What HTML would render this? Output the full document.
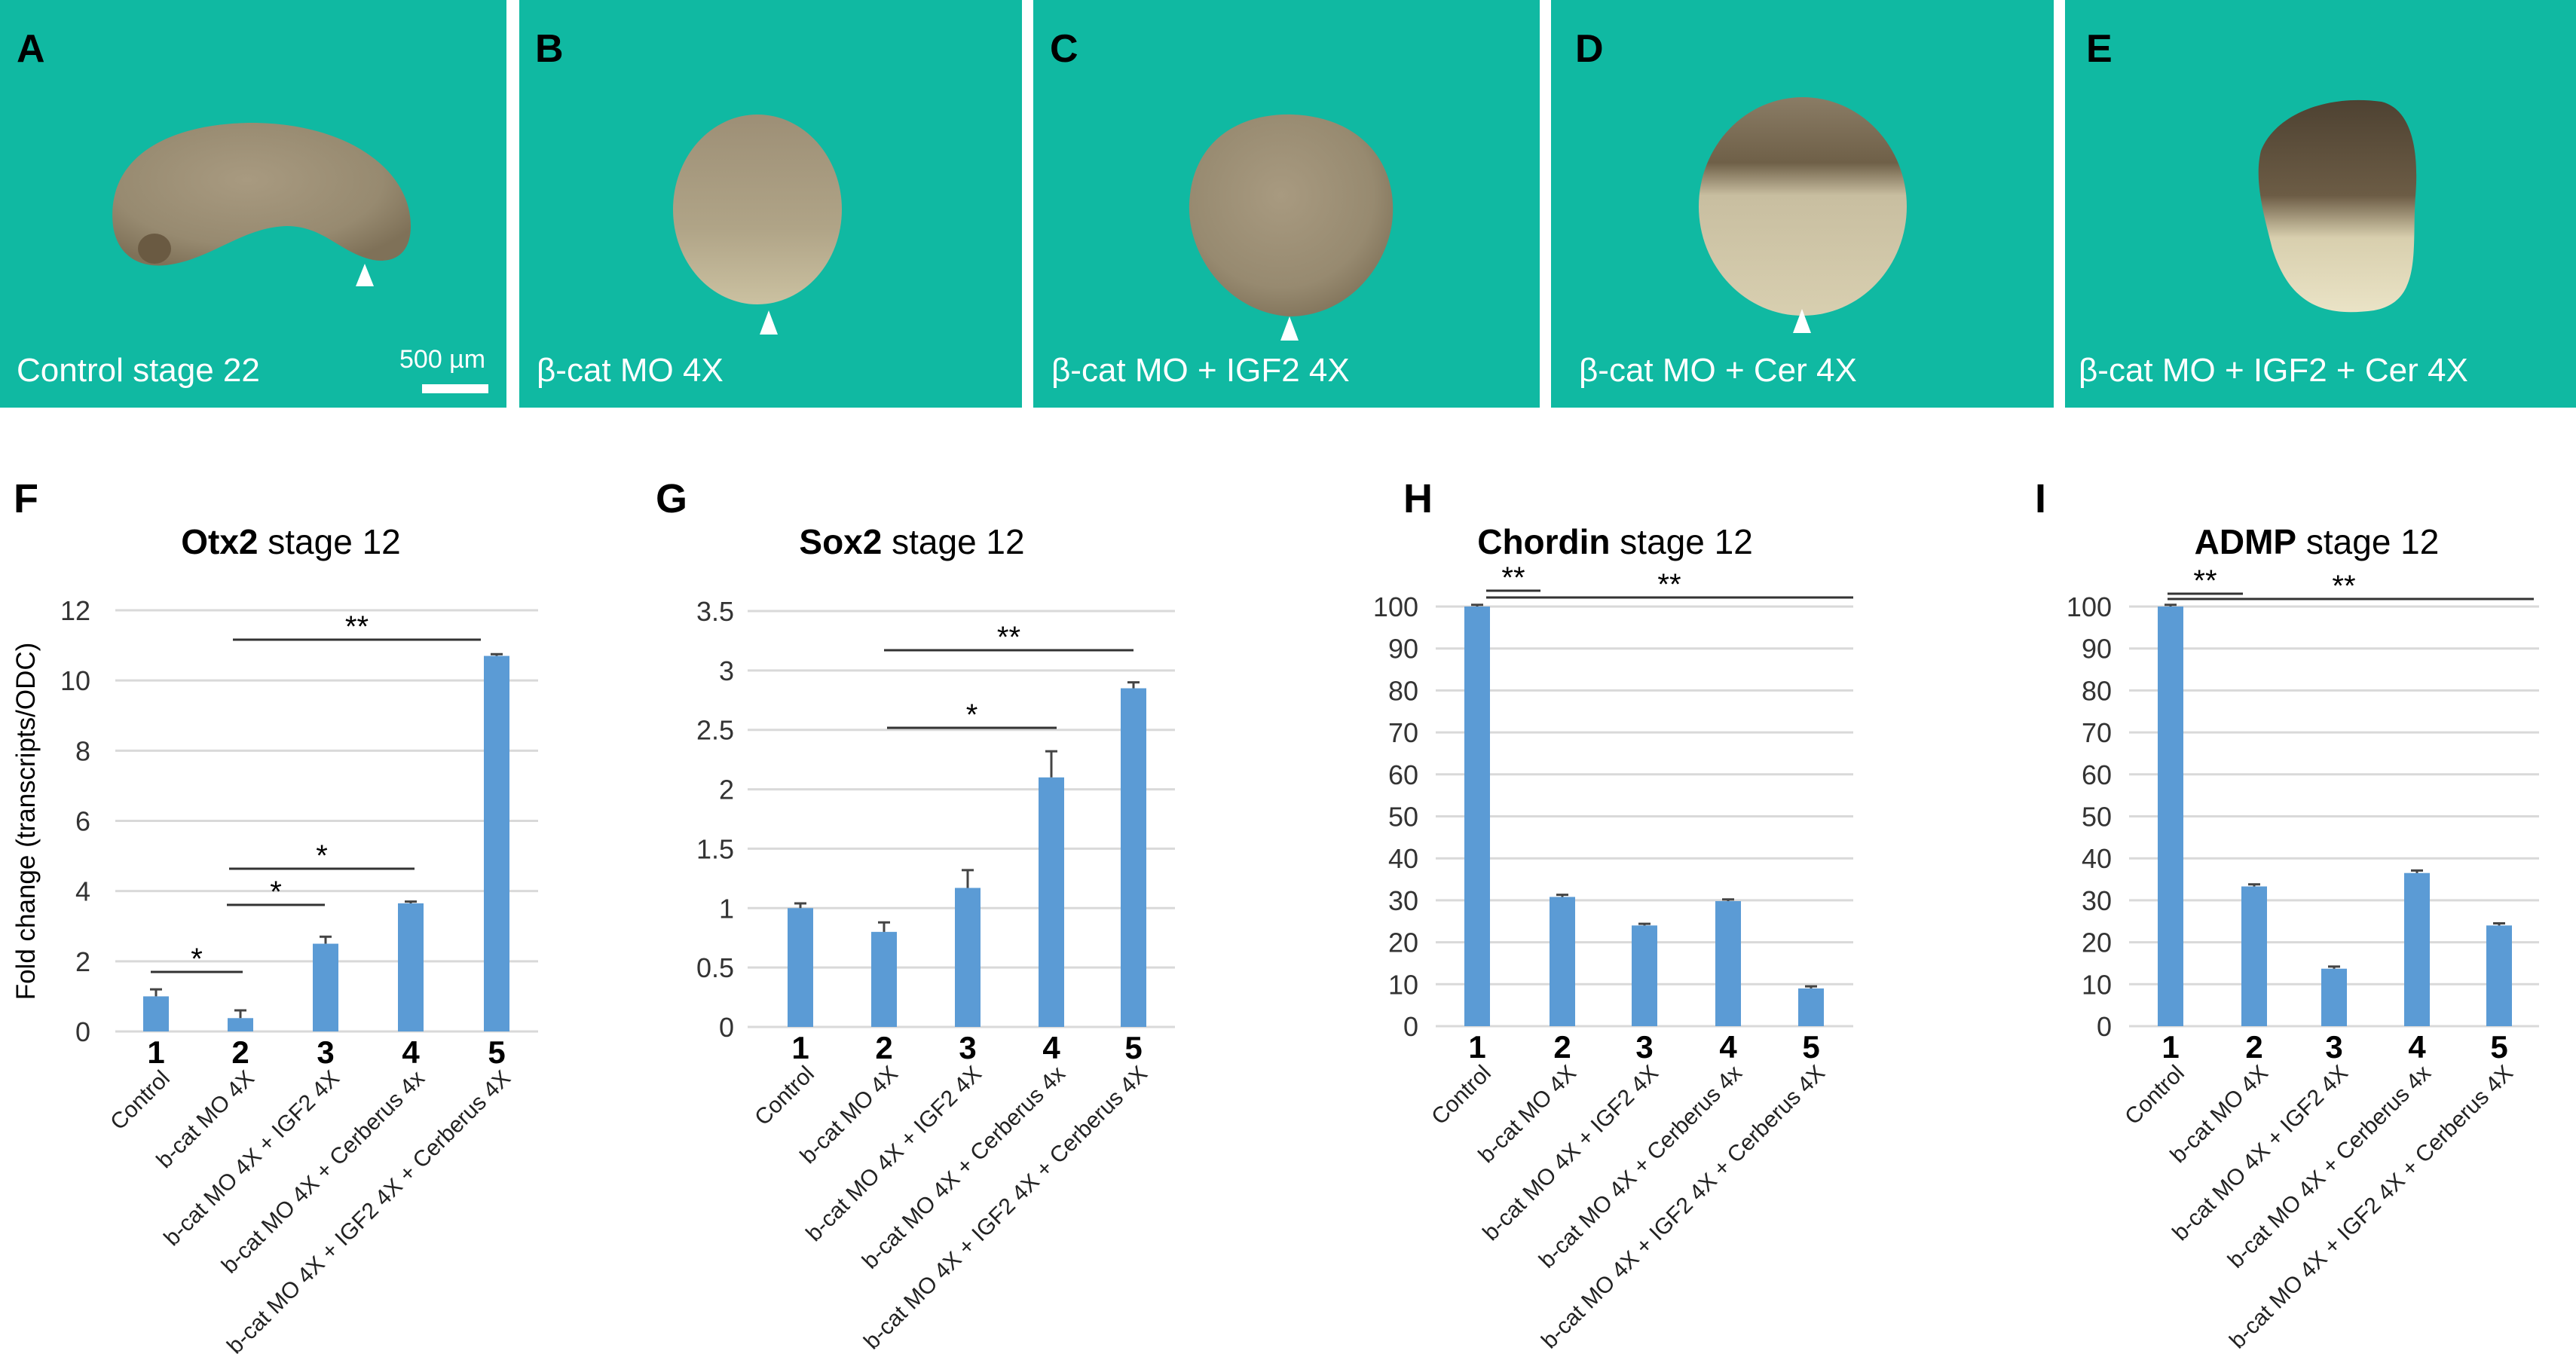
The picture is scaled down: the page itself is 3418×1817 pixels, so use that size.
<!DOCTYPE html>
<html><head><meta charset="utf-8">
<style>
html,body{margin:0;padding:0;background:#fff;}
svg{display:block;font-family:"Liberation Sans",sans-serif;}
</style></head>
<body>
<svg id="fig" width="3418" height="1817" viewBox="0 0 3418 1817" xmlns="http://www.w3.org/2000/svg">
<defs>
<radialGradient id="emb" cx="45%" cy="40%" r="65%">
<stop offset="0" stop-color="#a89a80"/><stop offset="0.7" stop-color="#978a70"/><stop offset="1" stop-color="#7f7158"/></radialGradient>
<linearGradient id="embB" x1="0" y1="0" x2="0" y2="1">
<stop offset="0" stop-color="#9d8f76"/><stop offset="0.6" stop-color="#b0a487"/><stop offset="1" stop-color="#cbc1a1"/></linearGradient>
<linearGradient id="embD" x1="0" y1="0" x2="0" y2="1">
<stop offset="0" stop-color="#8a7c65"/><stop offset="0.3" stop-color="#6f6048"/><stop offset="0.45" stop-color="#c8bea0"/><stop offset="1" stop-color="#d8cfb0"/></linearGradient>
<linearGradient id="embE" x1="0" y1="0" x2="0" y2="1">
<stop offset="0" stop-color="#4e4232"/><stop offset="0.45" stop-color="#6c5c45"/><stop offset="0.65" stop-color="#d8cfae"/><stop offset="1" stop-color="#eae3c6"/></linearGradient>
</defs>
<g id="photos">
<g>
<rect x="0" y="0" width="672" height="541" fill="#10b9a2"/>
<path d="M150,300 C140,210 220,165 330,163 C460,162 545,225 545,300 C545,335 525,350 495,345 C450,335 430,300 380,300 C320,302 280,345 220,352 C180,356 155,335 150,300Z" fill="url(#emb)"/>
<ellipse cx="205" cy="330" rx="22" ry="20" fill="#6a5a42"/>
<polygon points="484,350 472,380 496,380" fill="#fff"/>
<text x="22" y="82" font-size="52" font-weight="bold" fill="#000">A</text>
<text x="22" y="506" font-size="44" fill="#fff">Control stage 22</text>
<text x="530" y="488" font-size="34" fill="#fff">500 µm</text>
<rect x="560" y="510" width="88" height="12" fill="#fff"/>
</g>
<g>
<rect x="689" y="0" width="667" height="541" fill="#10b9a2"/>
<ellipse cx="1005" cy="278" rx="112" ry="126" fill="url(#embB)"/>
<polygon points="1020,412 1008,444 1032,444" fill="#fff"/>
<text x="710" y="82" font-size="52" font-weight="bold">B</text>
<text x="712" y="506" font-size="44" fill="#fff">β-cat MO 4X</text>
</g>
<g>
<rect x="1371" y="0" width="672" height="541" fill="#10b9a2"/>
<path d="M1711,420 C1630,415 1575,340 1578,270 C1582,190 1640,150 1715,152 C1800,155 1852,210 1848,285 C1845,350 1790,420 1711,420Z" fill="url(#emb)"/>
<polygon points="1711,420 1699,452 1723,452" fill="#fff"/>
<text x="1393" y="82" font-size="52" font-weight="bold">C</text>
<text x="1395" y="506" font-size="44" fill="#fff">β-cat MO + IGF2 4X</text>
</g>
<g>
<rect x="2058" y="0" width="667" height="541" fill="#10b9a2"/>
<ellipse cx="2392" cy="274" rx="138" ry="145" fill="url(#embD)"/>
<polygon points="2391,410 2379,442 2403,442" fill="#fff"/>
<text x="2090" y="82" font-size="52" font-weight="bold">D</text>
<text x="2095" y="506" font-size="44" fill="#fff">β-cat MO + Cer 4X</text>
</g>
<g>
<rect x="2740" y="0" width="678" height="541" fill="#10b9a2"/>
<path d="M3000,200 C3020,150 3090,125 3160,135 C3200,145 3210,200 3205,260 C3200,330 3215,400 3150,412 C3090,420 3040,410 3015,330 C3005,290 2990,240 3000,200Z" fill="url(#embE)"/>
<text x="2768" y="82" font-size="52" font-weight="bold">E</text>
<text x="2758" y="506" font-size="44" fill="#fff">β-cat MO + IGF2 + Cer 4X</text>
</g>
</g>
<g id="charts"></g>
</svg>
<script>
const categories = ["Control","b-cat MO 4X","b-cat MO 4X + IGF2 4X","b-cat MO 4X + Cerberus 4x","b-cat MO 4X + IGF2 4X + Cerberus 4X"];
const otx2Values = [1.0, 0.38, 2.5, 3.65, 10.7];
const otx2Errors = [0.2, 0.22, 0.2, 0.05, 0.05];
const otx2Ticks = [0,2,4,6,8,10,12];
const sox2Values = [1.0, 0.8, 1.17, 2.1, 2.85];
const sox2Errors = [0.04, 0.08, 0.15, 0.22, 0.05];
const sox2Ticks = [0,0.5,1,1.5,2,2.5,3,3.5];
const chordinValues = [100, 30.8, 24, 29.8, 9];
const chordinErrors = [0.4, 0.5, 0.4, 0.4, 0.5];
const admpValues = [100, 33.3, 13.7, 36.5, 24];
const admpErrors = [0.4, 0.5, 0.5, 0.6, 0.5];
const pctTicks = [0,10,20,30,40,50,60,70,80,90,100];

const NS="http://www.w3.org/2000/svg";
const root=document.getElementById('charts');
function mk(tag,attrs,parent,text){const e=document.createElementNS(NS,tag);for(const k in attrs)e.setAttribute(k,attrs[k]);if(text!==undefined)e.textContent=text;parent.appendChild(e);return e;}

const charts=[
 {id:'f',letter:'F',lx:18,bold:'Otx2',tcx:386,values:otx2Values,errs:otx2Errors,ticks:otx2Ticks,x0:153,x1:714,y0:1369,yTop:810,bars:[207,319,432,545,659],tickX:120,ylab:true,
  sigs:[[200,322,1290,'*'],[301,431,1201,'*'],[304,550,1153,'*'],[309,638,849,'**']]},
 {id:'g',letter:'G',lx:870,bold:'Sox2',tcx:1210,values:sox2Values,errs:sox2Errors,ticks:sox2Ticks,x0:992,x1:1559,y0:1363,yTop:811,bars:[1062,1173,1284,1395,1504],tickX:974,
  sigs:[[1177,1402,966,'*'],[1173,1504,863,'**']]},
 {id:'h',letter:'H',lx:1862,bold:'Chordin',tcx:2143,values:chordinValues,errs:chordinErrors,ticks:pctTicks,x0:1905,x1:2459,y0:1362,yTop:805,bars:[1960,2073,2182,2293,2403],tickX:1882,
  sigs:[[1972,2044,784,'**'],[1972,2459,793,'**',2215]]},
 {id:'i',letter:'I',lx:2700,bold:'ADMP',tcx:3074,values:admpValues,errs:admpErrors,ticks:pctTicks,x0:2825,x1:3369,y0:1362,yTop:805,bars:[2880,2991,3097,3207,3316],tickX:2802,
  sigs:[[2876,2976,788,'**'],[2876,3362,795,'**',3110]]}
];

charts.forEach(c=>{
 const g=mk('g',{},root);
 
 
 const tmax=c.ticks[c.ticks.length-1];
 const yS=v=>c.y0-(v/tmax)*(c.y0-c.yTop);
 const L=mk('text',{x:c.lx,y:680,'font-size':54,'font-weight':'bold'},g,c.letter);
 
 
 const T=mk('text',{x:c.tcx,y:735,'font-size':46,'text-anchor':'middle'},g);
 
 
 mk('tspan',{'font-weight':'bold'},T,c.bold);
 mk('tspan',{},T,' stage 12');
 c.ticks.forEach(t=>{
  const y=yS(t);
  const gl=mk('line',{x1:c.x0,x2:c.x1,y1:y,y2:y,stroke:'#d9d9d9','stroke-width':3},g);
  
  
  const tl=mk('text',{x:c.tickX,y:y+13,'font-size':36,'text-anchor':'end',fill:'#333'},g,String(t));
  
  
 });
 c.values.forEach((v,i)=>{
  const cx=c.bars[i], w=34, y=yS(v);
  const b=mk('rect',{x:cx-w/2,y:y,width:w,height:c.y0-y,fill:'#5b9bd5'},g);
  
  
  const ye=yS(v+c.errs[i]);
  const e=mk('path',{d:`M${cx},${y}V${ye}M${cx-8},${ye}H${cx+8}`,stroke:'#444','stroke-width':3,fill:'none'},g);
  
  
  const n=mk('text',{x:cx,y:c.y0+42,'font-size':42,'font-weight':'bold','text-anchor':'middle'},g,String(i+1));
  
  
  const cl=mk('text',{x:cx+20,y:c.y0+64,'font-size':30,'text-anchor':'end',transform:`rotate(-45 ${cx+20} ${c.y0+64})`,fill:'#222'},g,categories[i]);
  
  
 });
 c.sigs.forEach(s=>{
  const ln=mk('line',{x1:s[0],x2:s[1],y1:s[2],y2:s[2],stroke:'#333','stroke-width':3},g);
  
  
  const tx=s[4]!==undefined?s[4]:(s[0]+s[1])/2;
  const st=mk('text',{x:tx,y:s[2]-4,'font-size':40,'text-anchor':'middle'},g,s[3]);
  
  
 });
 if(c.ylab){
  const yl=mk('text',{x:46,y:1090,'font-size':35,'text-anchor':'middle',transform:'rotate(-90 46 1090)'},g,'Fold change (transcripts/ODC)');
  
  
 }
});
</script>
</body></html>
